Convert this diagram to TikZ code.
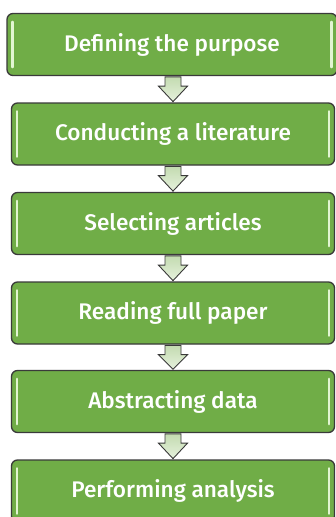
\documentclass[tikz,border=0pt]{standalone}
\usepackage{fontspec}
\setmainfont{Fira Sans}[BoldFont={Fira Sans Medium}]
\usetikzlibrary{calc}
\definecolor{stepgreen}{HTML}{70AD47}
\definecolor{stepedge}{HTML}{3A3A3A}
\definecolor{shine}{HTML}{E2F5D2}
\definecolor{arrowtop}{HTML}{C3DBB0}
\definecolor{arrowbot}{HTML}{E6F1DD}
\begin{document}
\begin{tikzpicture}[x=1pt,y=-1pt,
  stepbox/.style={draw=stepedge, line width=1.3pt, fill=stepgreen,
    rounded corners=6pt, minimum height=62pt, inner sep=0pt,
    text=white, font=\fontsize{22.6}{26}\selectfont\bfseries},
  shinebar/.style={shine, line width=2.6pt, line cap=round},
  downarrow/.style={draw=stepedge, line width=0.9pt, line join=miter,
    top color=arrowtop, bottom color=arrowbot}]
\useasboundingbox (0,0) rectangle (335,517);
\fill[white] (0,0) rectangle (335,517);

\node[stepbox, minimum width=330pt] (b1) at (172,44.5) {Defining the purpose};
\node[stepbox, minimum width=323pt] (b2) at (173,134) {Conducting a literature};
\node[stepbox, minimum width=323pt] (b3) at (173,223.5) {Selecting articles};
\node[stepbox, minimum width=323pt] (b4) at (173,313) {Reading full paper};
\node[stepbox, minimum width=323pt] (b5) at (173,401.5) {Abstracting data};
\node[stepbox, minimum width=323pt] (b6) at (173,491) {Performing analysis};

% glossy vertical highlights inside each box
\foreach \b in {b1,b2,b3,b4,b5,b6}{
  \draw[shinebar] ($(\b.north west)+(6,9)$) -- ($(\b.south west)+(6,-9)$);
  \draw[shinebar] ($(\b.north east)+(-6,9)$) -- ($(\b.south east)+(-6,-9)$);
}

% block arrows between consecutive steps
\foreach \a/\b in {b1/b2,b2/b3,b3/b4,b4/b5,b5/b6}{
  \coordinate (t) at (\a.south -| \b.north);
  \draw[downarrow] ($(t)+(-8,0.7)$) -- ($(t)+(8,0.7)$) -- ($(t)+(8,10)$)
    -- ($(t)+(14.5,10)$) -- ($(\b.north)+(0,-0.7)$) -- ($(t)+(-14.5,10)$)
    -- ($(t)+(-8,10)$) -- cycle;
}
\end{tikzpicture}
\end{document}
